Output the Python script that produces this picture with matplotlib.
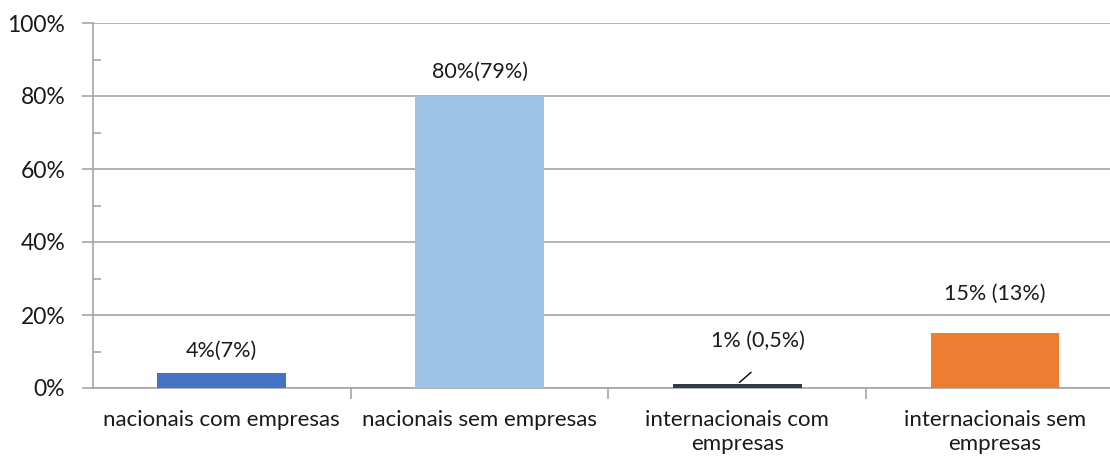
import matplotlib
matplotlib.use("Agg")
import matplotlib.pyplot as plt
from matplotlib.ticker import MultipleLocator, FuncFormatter

categories = ["nacionais com empresas", "nacionais sem empresas",
              "internacionais com\nempresas", "internacionais sem\nempresas"]
values = [4, 80, 1, 15]
labels = ["4%(7%)", "80%(79%)", "1% (0,5%)", "15% (13%)"]
colors = ["#4472C4", "#9DC3E6", "#323A48", "#ED7D31"]

# how far above the bar top each label sits (pixels)
label_lift = [23, 24, 43, 39]
label_shift = [0, 0, 15, 0]

plt.rcParams["font.family"] = ["Lato", "DejaVu Sans"]

fig = plt.figure(figsize=(11.1, 4.59), dpi=100)
W, H = 1110, 459
# axes extends a bit past the right edge, as in the reference
ax = fig.add_axes([93 / W, 71 / H, 1030.8 / W, 365 / H])

x = range(len(values))
ax.bar(x, values, width=0.5, color=colors, zorder=3)

ax.set_xlim(-0.5, 3.5)
ax.set_ylim(0, 100)
ax.yaxis.set_major_locator(MultipleLocator(20))
ax.yaxis.set_minor_locator(MultipleLocator(10))
ax.yaxis.set_major_formatter(FuncFormatter(lambda v, _: f"{v:.0f}%"))
ax.grid(axis="y", which="major", color="#A6A6A6", linewidth=1.2, zorder=0)

ax.set_xticks(list(x))
ax.set_xticklabels(categories, fontsize=16, linespacing=1.25, color="#1a1a1a")
ax.set_xticks([i + 0.5 for i in range(3)], minor=True)
ax.tick_params(axis="x", which="major", length=0, pad=16)
ax.tick_params(axis="x", which="minor", length=8, color="#A6A6A6", width=1.2)
ax.tick_params(axis="y", which="major", length=8, color="#A6A6A6", width=1.2,
               labelsize=16.5, pad=12, labelcolor="#1a1a1a")
ax.tick_params(axis="y", which="minor", length=6, direction="in",
               color="#A6A6A6", width=1.2)

for side in ["top", "right"]:
    ax.spines[side].set_visible(False)
for side in ["left", "bottom"]:
    ax.spines[side].set_color("#A6A6A6")
    ax.spines[side].set_linewidth(1.2)

for i, (v, t) in enumerate(zip(values, labels)):
    ax.annotate(t, xy=(i, v), xytext=(label_shift[i], label_lift[i] * 0.72),
                textcoords="offset points", ha="center", va="center",
                fontsize=15.5, color="#1a1a1a")

# leader line from the moved label down to the small bar
ax.annotate("", xy=(2, values[2]), xytext=(11.5, 10),
            textcoords="offset points",
            arrowprops=dict(arrowstyle="-", color="black", lw=1.0))

fig.savefig("out.png", dpi=100, facecolor="white")
